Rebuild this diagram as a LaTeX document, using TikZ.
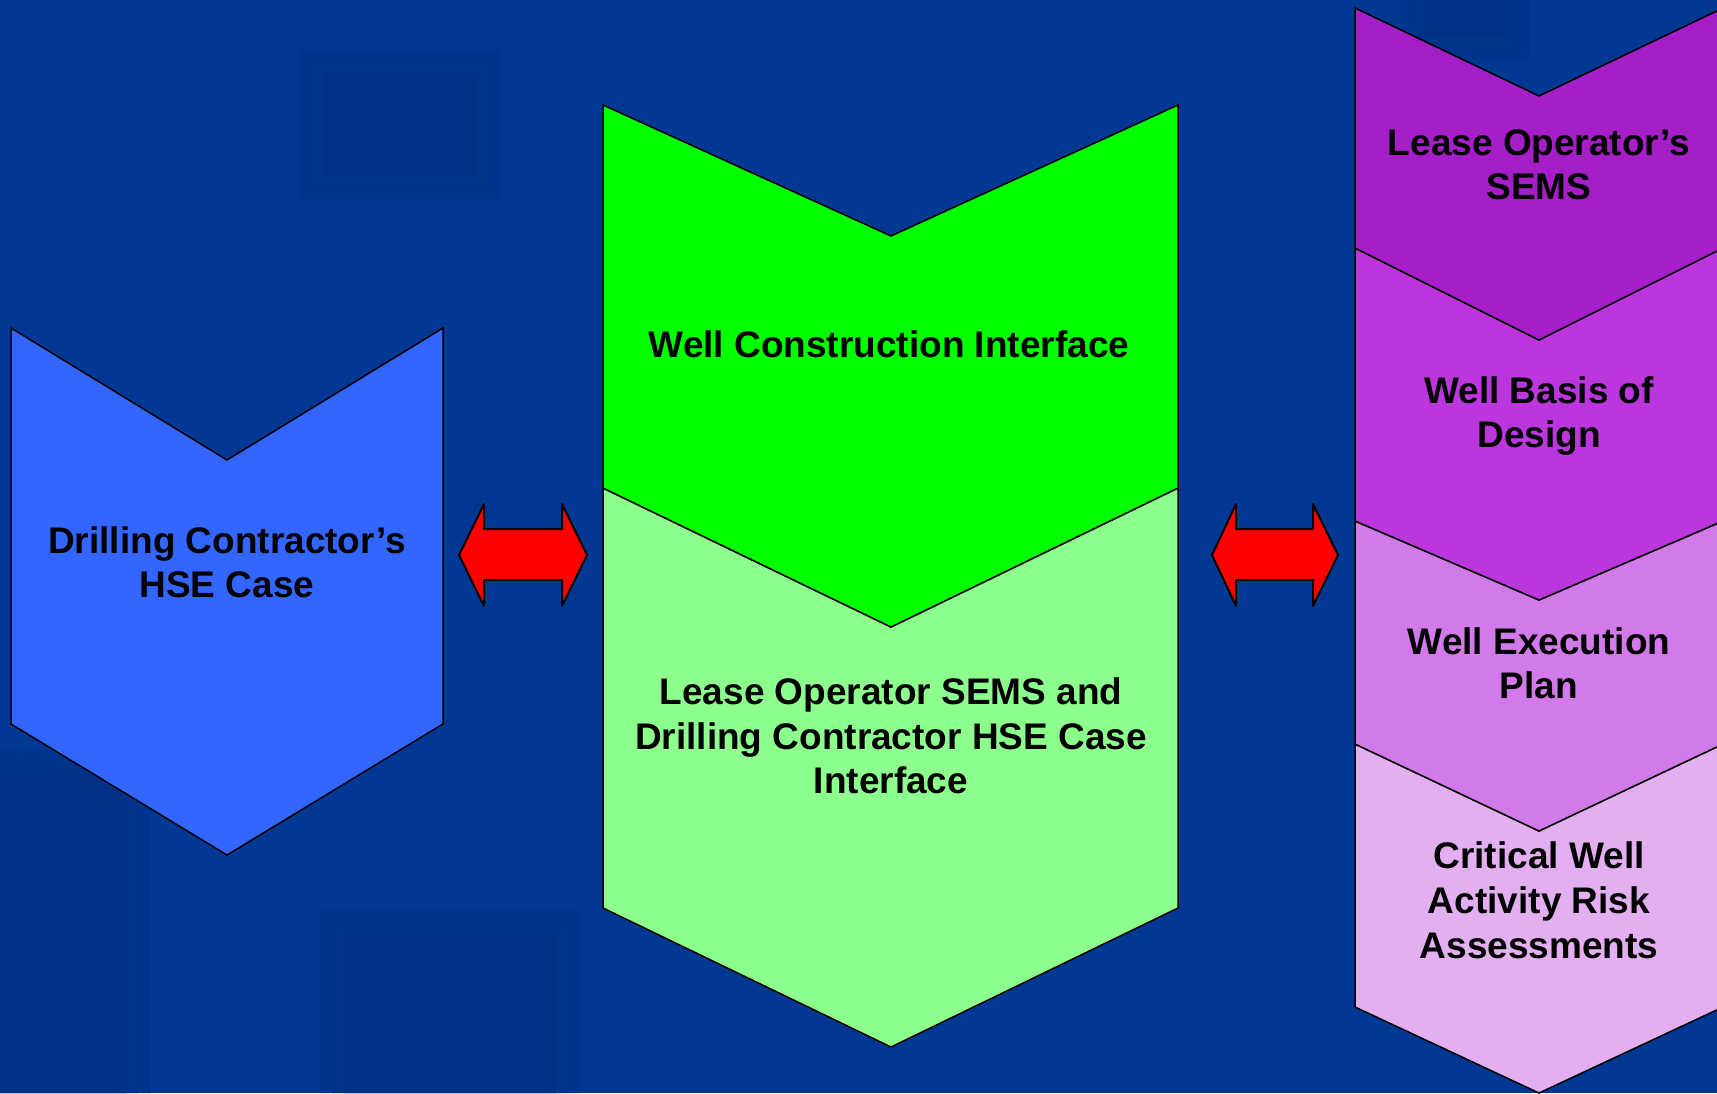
\documentclass[tikz,border=0pt]{standalone}
\usepackage{fontspec}
\setmainfont{Liberation Sans}
\definecolor{bgblue}{RGB}{0,56,148}
\definecolor{bgdark}{RGB}{0,34,100}
\definecolor{drillblue}{RGB}{51,102,255}
\definecolor{wcgreen}{RGB}{0,255,0}
\definecolor{lightgreen}{RGB}{140,255,140}
\definecolor{purpleA}{RGB}{165,30,200}
\definecolor{purpleB}{RGB}{187,55,221}
\definecolor{purpleC}{RGB}{211,122,234}
\definecolor{purpleD}{RGB}{228,175,240}
\definecolor{arrowred}{RGB}{255,0,0}
\newcommand{\softpatch}[4]{%
  \fill[bgdark,opacity=0.1] (#1,#2) rectangle (#3,#4);
  \fill[bgdark,opacity=0.1] ($(#1,#2)+(12,12)$) rectangle ($(#3,#4)+(-12,-12)$);
  \fill[bgdark,opacity=0.1] ($(#1,#2)+(24,24)$) rectangle ($(#3,#4)+(-24,-24)$);}
\usetikzlibrary{calc}
\begin{document}
\begin{tikzpicture}[x=0.5pt,y=-0.5pt,
  shapeline/.style={draw=black,line width=0.75pt,line join=miter},
  lbl/.style={font=\bfseries\fontsize{18.5}{22}\selectfont,text=black,align=center,inner sep=0pt},
  dblarrow/.style={fill=arrowred,draw=black,line width=1pt,line join=round}]
\useasboundingbox (0,0) rectangle (1717,1093);
\clip (0,0) rectangle (1717,1093);
% background
\fill[bgblue] (0,0) rectangle (1717,1093);
\softpatch{300}{50}{500}{200}
\softpatch{-30}{750}{150}{1120}
\softpatch{320}{910}{580}{1120}
\softpatch{1400}{-30}{1530}{60}
% left chevron
\filldraw[shapeline,fill=drillblue] (11,328) -- (227,460) -- (443,328) -- (443,724) -- (227,855) -- (11,724) -- cycle;
% middle chevrons
\filldraw[shapeline,fill=lightgreen] (603,488) -- (891,627) -- (1178,488) -- (1178,908) -- (891,1047) -- (603,908) -- cycle;
\filldraw[shapeline,fill=wcgreen] (603,105) -- (891,236) -- (1178,105) -- (1178,488) -- (891,627) -- (603,488) -- cycle;
% right chevrons
\filldraw[shapeline,fill=purpleD] (1355,744) -- (1539,831) -- (1723,744) -- (1723,1007) -- (1539,1093) -- (1355,1007) -- cycle;
\filldraw[shapeline,fill=purpleC] (1355,521) -- (1539,600) -- (1723,521) -- (1723,744) -- (1539,831) -- (1355,744) -- cycle;
\filldraw[shapeline,fill=purpleB] (1355,248) -- (1539,340) -- (1723,248) -- (1723,521) -- (1539,600) -- (1355,521) -- cycle;
\filldraw[shapeline,fill=purpleA] (1355,8) -- (1539,96) -- (1723,8) -- (1723,248) -- (1539,340) -- (1355,248) -- cycle;
% double arrows
\filldraw[dblarrow] (459,555) -- (484,504) -- (484,529) -- (562,529) -- (562,504) -- (587,555) -- (562,606) -- (562,580) -- (484,580) -- (484,606) -- cycle;
\filldraw[dblarrow] (1212,555) -- (1236,504) -- (1236,529) -- (1313,529) -- (1313,504) -- (1338,555) -- (1313,606) -- (1313,580) -- (1236,580) -- (1236,606) -- cycle;
% labels
\node[lbl] (drill) at (227,562) {Drilling Contractor’s\\HSE Case};
\node[lbl,anchor=base] (wci) at (889,357) {Well Construction Interface};
\node[lbl,font=\bfseries\fontsize{18.5}{22.2}\selectfont] (lease) at (891,736) {Lease Operator SEMS and\\Drilling Contractor HSE Case\\Interface};
\node[lbl] (sems) at (1539,165) {Lease Operator’s\\SEMS};
\node[lbl] (basis) at (1539,416) {Well Basis of\\Design};
\node[lbl] (exec) at (1539,663) {Well Execution\\Plan};
\node[lbl,font=\bfseries\fontsize{18.5}{22.5}\selectfont] (risk) at (1539,900) {Critical Well\\Activity Risk\\Assessments};
\end{tikzpicture}
\end{document}
